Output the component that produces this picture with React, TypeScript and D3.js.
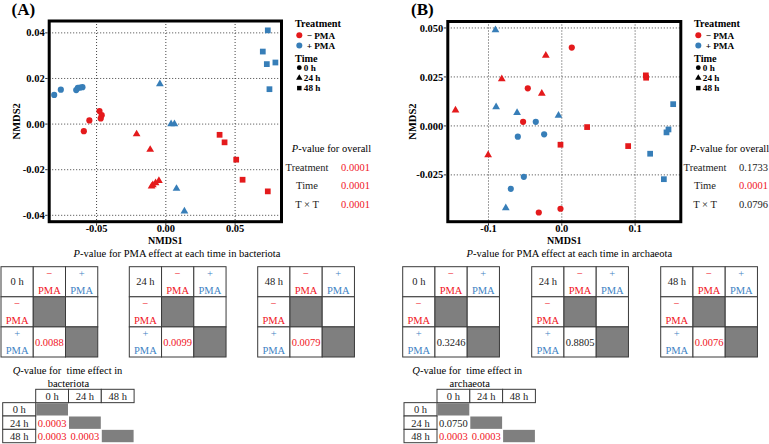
import React, { useEffect, useRef } from 'react';
import * as d3 from 'd3';

// [treatment, time (h), NMDS1, NMDS2]
type Sample = [string, number, number, number];

const bacteriotaSamples: Sample[] = [
  ['+', 0, -0.0806, 0.0128],
  ['+', 0, -0.0758, 0.0151],
  ['+', 0, -0.0647, 0.0149],
  ['+', 0, -0.0635, 0.0159],
  ['+', 0, -0.0619, 0.016],
  ['+', 0, -0.0602, 0.0162],
  ['-', 0, -0.0479, 0.0057],
  ['-', 0, -0.0463, 0.0039],
  ['-', 0, -0.047, 0.0025],
  ['-', 0, -0.0552, 0.0016],
  ['-', 0, -0.0592, -0.0031],
  ['-', 24, -0.0211, -0.0044],
  ['-', 24, -0.0113, -0.0112],
  ['-', 24, -0.005, -0.0248],
  ['-', 24, -0.0074, -0.0258],
  ['-', 24, -0.0094, -0.0267],
  ['-', 24, -0.0103, -0.0273],
  ['+', 24, -0.0043, 0.0176],
  ['+', 24, 0.0038, 0.0],
  ['+', 24, 0.0062, 0.0],
  ['+', 24, 0.0077, -0.0283],
  ['+', 24, 0.0134, -0.0382],
  ['-', 48, 0.0388, -0.0047],
  ['-', 48, 0.0424, -0.008],
  ['-', 48, 0.0508, -0.0156],
  ['-', 48, 0.0554, -0.0244],
  ['-', 48, 0.0736, -0.0295],
  ['+', 48, 0.0736, 0.0411],
  ['+', 48, 0.07, 0.0318],
  ['+', 48, 0.0729, 0.0263],
  ['+', 48, 0.0791, 0.027],
  ['+', 48, 0.0748, 0.0153],
];

const archaeotaSamples: Sample[] = [
  ['+', 24, -0.0905, 0.049],
  ['+', 24, -0.0896, 0.0097],
  ['+', 24, -0.061, 0.0067],
  ['+', 24, -0.0045, 0.0053],
  ['+', 24, -0.0764, -0.0419],
  ['-', 0, 0.0136, 0.04],
  ['-', 0, -0.0464, 0.0192],
  ['-', 0, -0.0528, 0.0021],
  ['-', 0, -0.0314, -0.0442],
  ['-', 0, -0.0018, -0.0423],
  ['-', 24, -0.0218, 0.036],
  ['-', 24, -0.0819, 0.0239],
  ['-', 24, -0.0273, 0.0165],
  ['-', 24, -0.145, 0.008],
  ['-', 24, -0.1005, -0.0148],
  ['+', 0, -0.0355, 0.0021],
  ['+', 0, -0.06, -0.0055],
  ['+', 0, -0.0241, -0.0043],
  ['+', 0, -0.0518, -0.026],
  ['+', 0, -0.0696, -0.0321],
  ['-', 48, 0.0345, -0.0006],
  ['-', 48, -0.0018, -0.0096],
  ['-', 48, 0.0905, -0.0103],
  ['-', 48, 0.1146, 0.0258],
  ['-', 48, 0.115, 0.0246],
  ['+', 48, 0.1519, 0.0111],
  ['+', 48, 0.1455, -0.0018],
  ['+', 48, 0.1428, -0.0033],
  ['+', 48, 0.1205, -0.0142],
  ['+', 48, 0.1392, -0.0272],
];

const treatments = ['-', '+'];
const treatmentLabels = ['− PMA', '+ PMA'];
const times = [0, 24, 48];
const timeLabels = ['0 h', '24 h', '48 h'];

const bactXTicks = [-0.05, 0, 0.05];
const bactYTicks = [-0.04, -0.02, 0, 0.02, 0.04];
const archXTicks = [-0.1, 0, 0.1];
const archYTicks = [-0.025, 0, 0.025, 0.05];

const overallTerms = ['Treatment', 'Time', 'T × T'];
const bactOverallP = [0.0001, 0.0001, 0.0001];
const archOverallP = [0.1733, 0.0001, 0.0796];

const bactPmaP = [0.0088, 0.0099, 0.0079];
const archPmaP = [0.3246, 0.8805, 0.0076];

const bactTimeQ = [
  [null, null, null],
  [0.0003, null, null],
  [0.0003, 0.0003, null],
];
const archTimeQ = [
  [null, null, null],
  [0.075, null, null],
  [0.0003, 0.0003, null],
];

const RED = '#E41A1C';
const BLUE = '#377EB8';
const TXT_RED = '#F0141E';
const TXT_BLUE = '#3F83C4';
const GREY = '#7F7F7F';
const LINE = '#3a3a3a';
const FONT = '"Liberation Serif", "Times New Roman", serif';

const pFmt = (v: number) => v.toFixed(4);
const pCol = (v: number) => (v < 0.05 ? TXT_RED : '#222');
const tick = (digits: number) => (v: number) => (v < 0 ? '-' : '') + Math.abs(v).toFixed(digits);

const App: React.FC = () => {
  const svgRef = useRef<SVGSVGElement>(null);

  useEffect(() => {
    const svg = d3.select(svgRef.current);
    svg.selectAll('*').remove();

    const drawPanel = (samples: Sample[], cfg: any) => {
      const x = d3.scaleLinear().domain(cfg.xDomain).range([cfg.left, cfg.right]);
      const y = d3.scaleLinear().domain(cfg.yDomain).range([cfg.bottom, cfg.top]);
      const g = svg.append('g');

      g.append('g').selectAll('line').data(cfg.xTicks).join('line')
        .attr('x1', (d: any) => x(d)).attr('x2', (d: any) => x(d))
        .attr('y1', cfg.top).attr('y2', cfg.bottom)
        .attr('stroke', '#444').attr('stroke-width', 1).attr('stroke-dasharray', '1,2');
      g.append('g').selectAll('line').data(cfg.yTicks).join('line')
        .attr('x1', cfg.left).attr('x2', cfg.right)
        .attr('y1', (d: any) => y(d)).attr('y2', (d: any) => y(d))
        .attr('stroke', '#444').attr('stroke-width', 1).attr('stroke-dasharray', '1,2');

      const shape = d3.scaleOrdinal<number, d3.SymbolType>().domain(times)
        .range([d3.symbolCircle, d3.symbolTriangle, d3.symbolSquare]);
      const size = d3.scaleOrdinal<number, number>().domain(times).range([30, 26, 33]);
      const colour = d3.scaleOrdinal<string, string>().domain(treatments).range([RED, BLUE]);

      g.append('g').selectAll('path').data(samples).join('path')
        .attr('transform', d => `translate(${x(d[2])},${y(d[3])})`)
        .attr('d', d => d3.symbol().type(shape(d[1])).size(size(d[1]))()!)
        .attr('fill', d => colour(d[0]));

      g.append('rect')
        .attr('x', cfg.left).attr('y', cfg.top)
        .attr('width', cfg.right - cfg.left).attr('height', cfg.bottom - cfg.top)
        .attr('fill', 'none').attr('stroke', 'black').attr('stroke-width', 3);

      // axis ticks + labels
      g.append('g').selectAll('line').data(cfg.xTicks).join('line')
        .attr('x1', (d: any) => x(d)).attr('x2', (d: any) => x(d))
        .attr('y1', cfg.bottom + 1.5).attr('y2', cfg.bottom + 4)
        .attr('stroke', '#333');
      g.append('g').selectAll('line').data(cfg.yTicks).join('line')
        .attr('x1', cfg.left - 4).attr('x2', cfg.left - 1.5)
        .attr('y1', (d: any) => y(d)).attr('y2', (d: any) => y(d))
        .attr('stroke', '#333');

      g.append('g').selectAll('text').data(cfg.xTicks).join('text')
        .attr('x', (d: any) => x(d)).attr('y', 231.5)
        .attr('text-anchor', 'middle').attr('font-size', 10.5).attr('font-weight', 'bold')
        .text((d: any) => cfg.xFmt(d));
      g.append('g').selectAll('text').data(cfg.yTicks).join('text')
        .attr('x', cfg.left - 4.5).attr('y', (d: any) => y(d) + 3.6)
        .attr('text-anchor', 'end').attr('font-size', 10.5).attr('font-weight', 'bold')
        .text((d: any) => cfg.yFmt(d));

      g.append('text')
        .attr('x', (cfg.left + cfg.right) / 2).attr('y', 243.5)
        .attr('text-anchor', 'middle').attr('font-size', 10).attr('font-weight', 'bold')
        .text('NMDS1');
      g.append('text')
        .attr('transform', `translate(${cfg.yTitleX},${(cfg.top + cfg.bottom) / 2}) rotate(-90)`)
        .attr('text-anchor', 'middle').attr('font-size', 10.5).attr('font-weight', 'bold')
        .text('NMDS2');

      g.append('text')
        .attr('x', cfg.tagX).attr('y', 14.5)
        .attr('font-size', 17).attr('font-weight', 'bold')
        .text(cfg.tag);
    };

    const drawLegend = (x0: number) => {
      const g = svg.append('g').attr('font-weight', 'bold');
      g.append('text').attr('x', x0).attr('y', 26.7).attr('font-size', 10.3).text('Treatment');
      const colour = [RED, BLUE];
      treatmentLabels.forEach((lab, i) => {
        const base = 38.6 + i * 10.2;
        g.append('circle').attr('cx', x0 + 4.3).attr('cy', base - 3.4).attr('r', 3).attr('fill', colour[i]);
        g.append('text').attr('x', x0 + 11.7).attr('y', base).attr('font-size', 9.2).text(lab);
      });
      g.append('text').attr('x', x0).attr('y', 62.3).attr('font-size', 10.3).text('Time');
      const shapes = [d3.symbolCircle, d3.symbolTriangle, d3.symbolSquare];
      const sizes = [18, 18, 20];
      timeLabels.forEach((lab, i) => {
        const base = 70.8 + i * 10.2;
        g.append('path')
          .attr('transform', `translate(${x0 + 4.3},${base - 3.1})`)
          .attr('d', d3.symbol().type(shapes[i]).size(sizes[i])()!)
          .attr('fill', 'black');
        g.append('text').attr('x', x0 + 8.8).attr('y', base).attr('font-size', 9.2).text(lab);
      });
    };

    const drawOverall = (dx: number, pv: number[]) => {
      const g = svg.append('g').attr('font-size', 10.5);
      const t = g.append('text').attr('x', 331.5 + dx).attr('y', 151.7).attr('text-anchor', 'middle');
      t.append('tspan').attr('font-style', 'italic').text('P');
      t.append('tspan').text('-value for overall');
      const ys = [170.5, 188.5, 208];
      overallTerms.forEach((term, i) => {
        g.append('text').attr('x', 307 + dx).attr('y', ys[i]).attr('text-anchor', 'middle').attr('fill', '#222').text(term);
        g.append('text').attr('x', 355.5 + dx).attr('y', ys[i]).attr('text-anchor', 'middle')
          .attr('fill', pCol(pv[i])).text(pFmt(pv[i]));
      });
    };

    const drawPmaTables = (lefts: number[], titleX: number, group: string, pv: number[]) => {
      const top = 266.7, cw = 32.25, ch = 30.1;
      const t = svg.append('text').attr('x', titleX).attr('y', 257).attr('text-anchor', 'middle').attr('font-size', 10.5);
      t.append('tspan').attr('font-style', 'italic').text('P');
      t.append('tspan').text(`-value for PMA effect at each time in ${group}`);
      lefts.forEach((x0, k) => {
        const g = svg.append('g').attr('font-size', 10.5).attr('text-anchor', 'middle');
        const cells = d3.cross(d3.range(3), d3.range(3));
        g.selectAll('rect').data(cells).join('rect')
          .attr('x', d => x0 + d[1] * cw).attr('y', d => top + d[0] * ch)
          .attr('width', cw).attr('height', ch)
          .attr('fill', d => (d[0] > 0 && d[0] === d[1] ? GREY : 'white'))
          .attr('stroke', LINE).attr('stroke-width', 1);
        g.append('text').attr('x', x0 + cw / 2).attr('y', top + 18.3).attr('fill', '#222').text(timeLabels[k]);
        const heads = [[0, 1, 0], [0, 2, 1], [1, 0, 0], [2, 0, 1]];
        heads.forEach(([r, c, ti]) => {
          const cx = x0 + c * cw + cw / 2;
          const cy = top + r * ch;
          const col = ti === 0 ? TXT_RED : TXT_BLUE;
          g.append('text').attr('x', cx).attr('y', cy + 10.5).attr('fill', col).text(ti === 0 ? '−' : '+');
          g.append('text').attr('x', cx).attr('y', cy + 27.3).attr('fill', col).text('PMA');
        });
        g.append('text').attr('x', x0 + cw * 1.5).attr('y', top + 2 * ch + 19.3)
          .attr('fill', pCol(pv[k])).text(pFmt(pv[k]));
      });
    };

    const drawQTable = (x0: number, group: string, titleX: number, q: (number | null)[][]) => {
      const top = 389.3, hw = 33, cw = 32.8, rh = 13.35;
      const g = svg.append('g').attr('font-size', 10.5).attr('text-anchor', 'middle');
      const t = g.append('text').attr('x', titleX).attr('y', 374).style('white-space', 'pre');
      t.append('tspan').attr('font-style', 'italic').text('Q');
      t.append('tspan').text('-value for  time effect in');
      g.append('text').attr('x', x0 + (hw + 3 * cw) / 2).attr('y', 386.5).text(group);

      timeLabels.forEach((lab, i) => {
        g.append('rect').attr('x', x0 + hw + i * cw).attr('y', top).attr('width', cw).attr('height', rh)
          .attr('fill', 'white').attr('stroke', LINE);
        g.append('text').attr('x', x0 + hw + i * cw + cw / 2).attr('y', top + 10.5).attr('fill', '#222').text(lab);
        g.append('rect').attr('x', x0).attr('y', top + (i + 1) * rh).attr('width', hw).attr('height', rh)
          .attr('fill', 'white').attr('stroke', LINE);
        g.append('text').attr('x', x0 + hw / 2).attr('y', top + (i + 1) * rh + 10.5).attr('fill', '#222').text(lab);
      });
      q.forEach((row, i) => row.forEach((v, j) => {
        const cx = x0 + hw + j * cw;
        const cy = top + (i + 1) * rh;
        if (i === j) {
          g.append('rect').attr('x', cx + 0.5).attr('y', cy + 0.5).attr('width', cw - 1).attr('height', rh - 1).attr('fill', GREY);
        } else if (v != null) {
          g.append('text').attr('x', cx + cw / 2).attr('y', cy + 10.5).attr('fill', pCol(v)).text(pFmt(v));
        }
      }));
    };

    drawPanel(bacteriotaSamples, {
      xDomain: [-0.0842, 0.0835], yDomain: [-0.0428, 0.0452],
      left: 49.2, right: 281.5, top: 21, bottom: 221.7,
      xTicks: bactXTicks, yTicks: bactYTicks, xFmt: tick(2), yFmt: tick(2),
      yTitleX: 19.5, tag: '(A)', tagX: 11.5,
    });
    drawPanel(archaeotaSamples, {
      xDomain: [-0.1555, 0.1623], yDomain: [-0.0489, 0.0533],
      left: 447.8, right: 680.8, top: 21.5, bottom: 221.7,
      xTicks: archXTicks, yTicks: archYTicks, xFmt: tick(1), yFmt: tick(3),
      yTitleX: 415.5, tag: '(B)', tagX: 411,
    });

    drawLegend(295);
    drawLegend(694);
    drawOverall(0, bactOverallP);
    drawOverall(398, archOverallP);

    drawPmaTables([1, 129.3, 257.7], 177, 'bacteriota', bactPmaP);
    drawPmaTables([402.7, 531.7, 660.7], 569.3, 'archaeota', archPmaP);

    drawQTable(2.7, 'bacteriota', 67.5, bactTimeQ);
    drawQTable(404, 'archaeota', 467.2, archTimeQ);
  }, []);

  return (
    <div style={{ position: 'absolute', left: 0, top: 0, width: 769, height: 444, background: 'white' }}>
      <svg ref={svgRef} width={769} height={444} style={{ display: 'block', fontFamily: FONT }} />
    </div>
  );
};

export default App;
